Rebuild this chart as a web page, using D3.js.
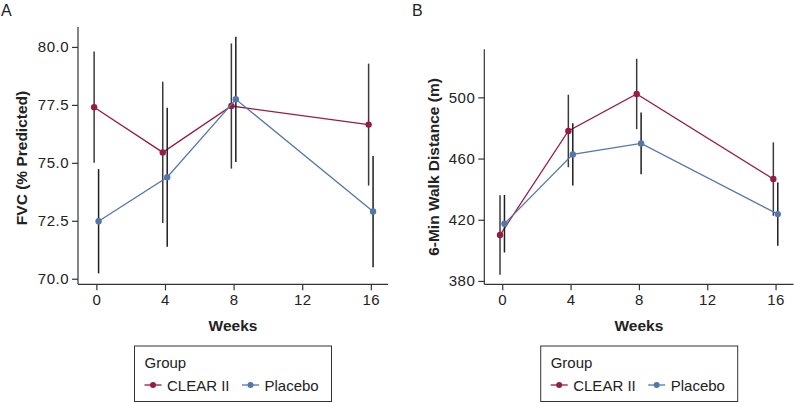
<!DOCTYPE html>
<html>
<head>
<meta charset="utf-8">
<script src="https://cdn.jsdelivr.net/npm/d3@7"></script>
<style>
  body { margin: 0; background: #fff; }
  text { font-family: "Liberation Sans", Arial, sans-serif; fill: #222; }
</style>
</head>
<body>
<div id="chart"></div>
<script>
const weeks = [0, 4, 8, 16];
const groups = ["CLEAR II", "Placebo"];
const groupColors = ["#981b45", "#5377aa"];

const fvcClear = [77.4, 75.45, 77.45, 76.65];
const fvcClearErr = [2.4, 3.05, 2.7, 2.63];
const fvcPlacebo = [72.48, 74.38, 77.74, 72.9];
const fvcPlaceboErr = [2.25, 3.0, 2.7, 2.4];

const walkClear = [410.0, 478.0, 502.2, 446.6];
const walkClearErr = [26, 23.7, 23, 24];
const walkPlacebo = [417.4, 462.7, 469.9, 423.7];
const walkPlaceboErr = [18.8, 20.3, 20.2, 20.7];

const xTicks = [0, 4, 8, 12, 16];
const fvcTicks = [70, 72.5, 75, 77.5, 80];
const walkTicks = [380, 420, 460, 500];

const width = 794, height = 403;
const dodge = 0.13;

const svg = d3.select("#chart").append("svg")
  .attr("width", width)
  .attr("height", height);

function renderPanel(p) {
  const x = d3.scaleLinear().domain(p.xDomain).range([p.left, p.right]);
  const y = d3.scaleLinear().domain(p.yDomain).range([p.bottom, p.top]);
  const g = svg.append("g");

  // panel letter
  g.append("text")
    .attr("x", p.letterX).attr("y", 16)
    .attr("font-size", 16)
    .text(p.letter);

  // axes
  const xAxis = d3.axisBottom(x).tickValues(xTicks).tickSize(6).tickPadding(4);
  g.append("g")
    .attr("transform", `translate(0,${p.bottom})`)
    .call(xAxis)
    .call((a) => a.select(".domain").attr("d", `M${p.left},0H${p.right}`));

  const yAxis = d3.axisLeft(y).tickValues(p.yTicks).tickSize(6).tickPadding(3)
    .tickFormat(p.yFormat);
  g.append("g")
    .attr("transform", `translate(${p.left},0)`)
    .call(yAxis)
    .call((a) => a.select(".domain").attr("d", `M0,${p.top}V${p.bottom}`));

  g.selectAll(".domain, .tick line").attr("stroke", "#333").attr("stroke-width", 1.2);
  g.selectAll(".tick text")
    .attr("font-size", 15)
    .attr("letter-spacing", "0.5px")
    .attr("fill", "#222")
    .attr("font-family", "Liberation Sans, Arial, sans-serif");

  // axis titles
  g.append("text")
    .attr("x", (p.left + p.right) / 2).attr("y", 331)
    .attr("text-anchor", "middle")
    .attr("font-size", 15.5).attr("font-weight", "bold")
    .text("Weeks");

  g.append("text")
    .attr("transform", `translate(${p.titleX},${p.titleY}) rotate(-90)`)
    .attr("text-anchor", "middle")
    .attr("font-size", 15.5).attr("font-weight", "bold")
    .text(p.yTitle);

  // series
  p.series.forEach((s, i) => {
    const off = i === 0 ? -dodge : dodge;
    const pts = weeks.map((w, j) => ({ w: w + off, v: s.values[j], e: s.errs[j] }));

    g.append("path")
      .datum(pts)
      .attr("d", d3.line().x((d) => x(d.w)).y((d) => y(d.v)))
      .attr("fill", "none")
      .attr("stroke", groupColors[i])
      .attr("stroke-width", 1.3);

    g.selectAll(null).data(pts).enter().append("line")
      .attr("x1", (d) => x(d.w)).attr("x2", (d) => x(d.w))
      .attr("y1", (d) => y(d.v - d.e)).attr("y2", (d) => y(d.v + d.e))
      .attr("stroke", i === 0 ? "#3a3a3a" : "#1e1e1e")
      .attr("stroke-width", 1.5);

    g.selectAll(null).data(pts).enter().append("circle")
      .attr("cx", (d) => x(d.w)).attr("cy", (d) => y(d.v))
      .attr("r", 3.2)
      .attr("fill", groupColors[i]);
  });

  // legend
  const lg = g.append("g").attr("transform", `translate(${p.legendX},346)`);
  lg.append("rect")
    .attr("x", 0).attr("y", 0)
    .attr("width", 197).attr("height", 55.5)
    .attr("fill", "#fff").attr("stroke", "#333").attr("stroke-width", 1);
  lg.append("text").attr("x", 10).attr("y", 22).attr("font-size", 15).text("Group");
  const itemX = [10, 107.5];
  groups.forEach((name, i) => {
    const it = lg.append("g").attr("transform", `translate(${itemX[i]},39)`);
    it.append("line").attr("x1", 0).attr("x2", 17).attr("y1", 0).attr("y2", 0)
      .attr("stroke", groupColors[i]).attr("stroke-width", 1.3);
    it.append("circle").attr("cx", 8.5).attr("cy", 0).attr("r", 3).attr("fill", groupColors[i]);
    it.append("text").attr("x", 22.5).attr("y", 5.5).attr("font-size", 15).text(name);
  });
}

renderPanel({
  letter: "A", letterX: 1,
  left: 78, right: 388, top: 27, bottom: 284.3,
  xDomain: [-1.07, 17.0], yDomain: [69.76, 80.86],
  yTicks: fvcTicks, yFormat: d3.format(".1f"),
  yTitle: "FVC (% Predicted)", titleX: 27, titleY: 158,
  legendX: 134.5,
  series: [
    { values: fvcClear, errs: fvcClearErr },
    { values: fvcPlacebo, errs: fvcPlaceboErr }
  ]
});

renderPanel({
  letter: "B", letterX: 412,
  left: 484.3, right: 793.5, top: 49.3, bottom: 284.3,
  xDomain: [-1.05, 17.05], yDomain: [377.8, 531.4],
  yTicks: walkTicks, yFormat: d3.format("d"),
  yTitle: "6-Min Walk Distance (m)", titleX: 439, titleY: 167,
  legendX: 540.7,
  series: [
    { values: walkClear, errs: walkClearErr },
    { values: walkPlacebo, errs: walkPlaceboErr }
  ]
});
</script>
</body>
</html>
